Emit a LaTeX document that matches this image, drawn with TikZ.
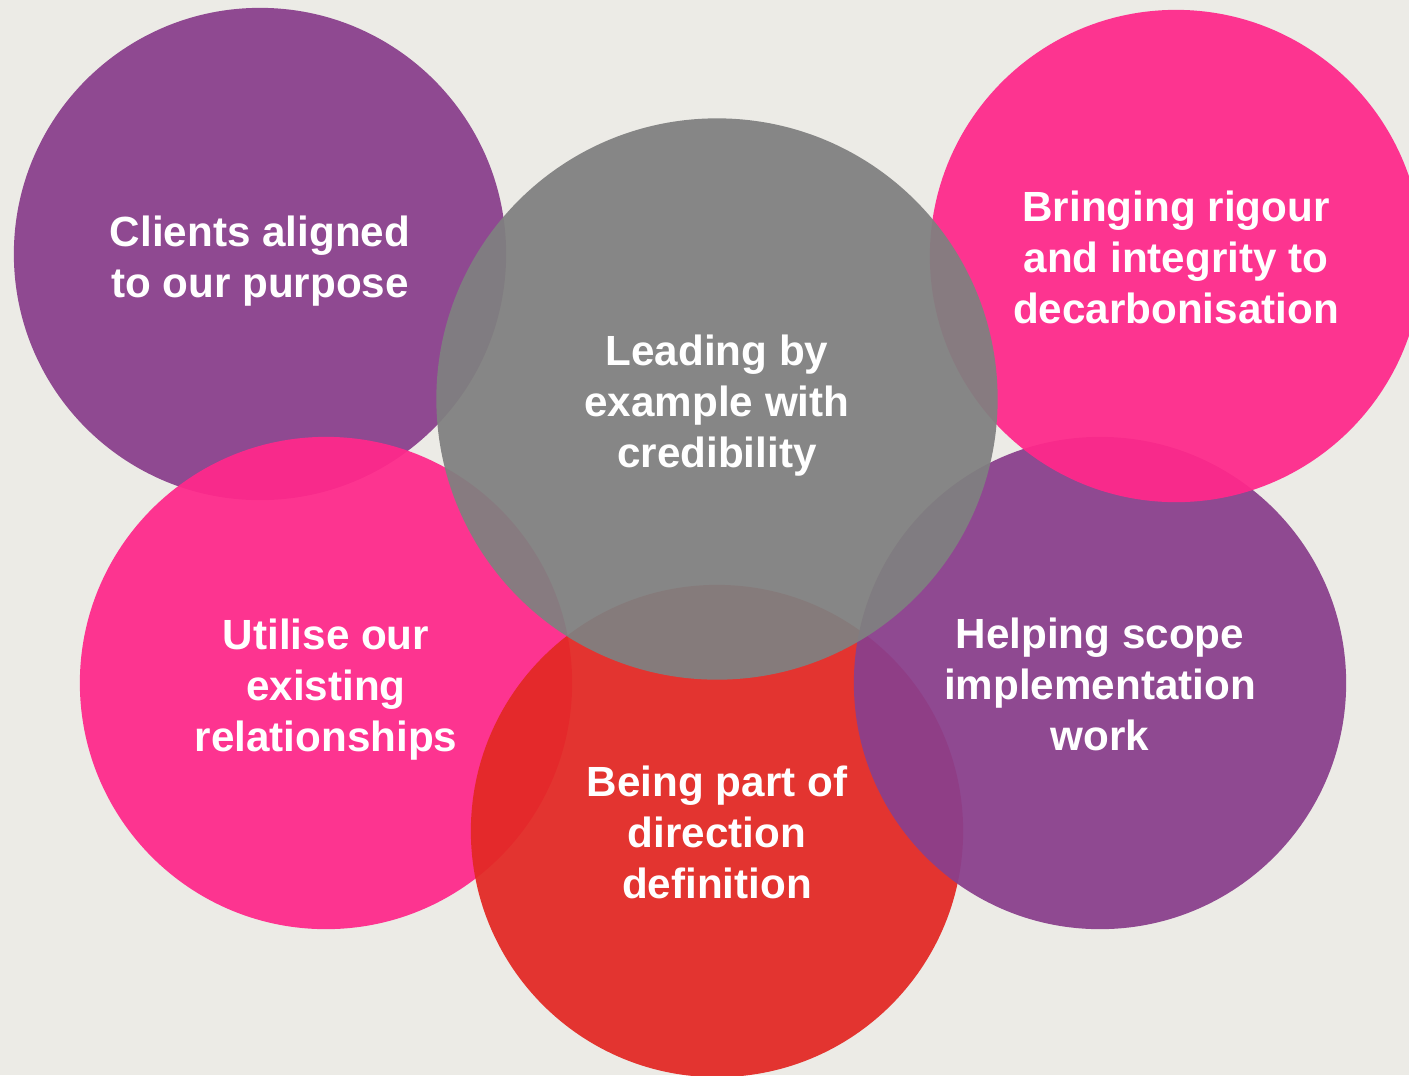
\documentclass[tikz,border=0pt]{standalone}
\usepackage{fontspec}
\setmainfont{Liberation Sans}
\usetikzlibrary{positioning}
\definecolor{bgpaper}{HTML}{ECEBE6}
\definecolor{plum}{HTML}{8A3F8C}
\definecolor{hotpink}{HTML}{FF298B}
\definecolor{slate}{HTML}{808080}
\definecolor{scarlet}{HTML}{E32925}
\tikzset{
  blob/.style = {circle, minimum size=4.92cm, inner sep=0pt, fill opacity=0.94},
  bigblob/.style = {blob, minimum size=5.61cm},
  blobtext/.style = {text=white, align=center, yshift=-2pt, font=\fontsize{12}{14.5}\selectfont\bfseries},
  uptext/.style = {blobtext, yshift=1.7pt}
}
\begin{document}
\begin{tikzpicture}[x=0.01cm, y=-0.01cm]
        \fill[bgpaper] (0,0) rectangle (1409,1075);
        \useasboundingbox (0,0) rectangle (1409,1075);
        \clip (0,0) rectangle (1409,1075);
        \node[blob, fill=plum] (clients) at (260,254) {};
        \node[blob, fill=hotpink] (utilise) at (326,683) {};
        \node[blob, fill=scarlet] (being) at (717,831) {};
        \node[blob, fill=plum] (helping) at (1100,683) {};
        \node[blob, fill=hotpink] (rigour) at (1176,256) {};
        \node[bigblob, fill=slate] (leading) at (717,399) {};
        % labels
        \node[blobtext] (clientstxt) at (clients) {Clients aligned\\to our purpose};
        \node[blobtext] (utilisetxt) at (utilise) {Utilise our\\existing\\relationships};
        \node[uptext] (beingtxt) at (being) {Being part of\\direction\\definition};
        \node[uptext] (helpingtxt) at (helping) {Helping scope\\implementation\\work};
        \node[uptext] (rigourtxt) at (rigour) {Bringing rigour\\and integrity to\\decarbonisation};
        \node[blobtext] (leadingtxt) at (leading) {Leading by\\example with\\credibility};
    \end{tikzpicture}
\end{document}
